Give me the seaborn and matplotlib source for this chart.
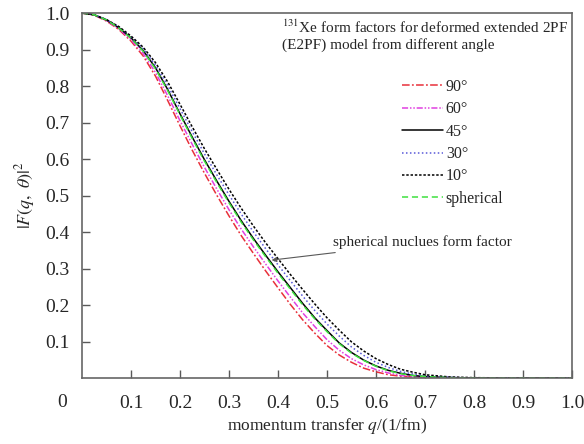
import pandas as pd
import matplotlib
matplotlib.use("Agg")
import matplotlib.pyplot as plt
import seaborn as sns

# momentum transfer grid (1/fm)
q = [0.000, 0.025, 0.050, 0.075, 0.100, 0.125, 0.150, 0.175, 0.200, 0.225,
     0.250, 0.275, 0.300, 0.325, 0.350, 0.375, 0.400, 0.425, 0.450, 0.475,
     0.500, 0.525, 0.550, 0.575, 0.600, 0.625, 0.650, 0.675, 0.700, 0.750,
     0.800, 0.900, 1.000]

f_90 = [1.000, 0.994, 0.978, 0.955, 0.923, 0.882, 0.827, 0.760, 0.691, 0.624,
        0.561, 0.501, 0.444, 0.390, 0.341, 0.293, 0.247, 0.202, 0.160, 0.123,
        0.089, 0.063, 0.043, 0.027, 0.017, 0.009, 0.005, 0.003, 0.001, 0.000,
        0.000, 0.000, 0.000]
f_60 = [1.000, 0.995, 0.979, 0.957, 0.927, 0.889, 0.837, 0.773, 0.705, 0.640,
        0.577, 0.518, 0.461, 0.408, 0.359, 0.312, 0.266, 0.222, 0.179, 0.141,
        0.105, 0.076, 0.053, 0.036, 0.023, 0.014, 0.007, 0.004, 0.002, 0.001,
        0.000, 0.000, 0.000]
f_45 = [1.000, 0.995, 0.981, 0.960, 0.932, 0.897, 0.850, 0.790, 0.724, 0.660,
        0.598, 0.540, 0.484, 0.431, 0.382, 0.336, 0.291, 0.248, 0.205, 0.165,
        0.130, 0.096, 0.070, 0.049, 0.033, 0.021, 0.013, 0.007, 0.004, 0.001,
        0.000, 0.000, 0.000]
f_30 = [1.000, 0.995, 0.982, 0.962, 0.935, 0.902, 0.857, 0.801, 0.738, 0.675,
        0.614, 0.557, 0.502, 0.449, 0.400, 0.354, 0.310, 0.267, 0.225, 0.185,
        0.148, 0.115, 0.085, 0.062, 0.043, 0.029, 0.018, 0.011, 0.006, 0.002,
        0.000, 0.000, 0.000]
f_10 = [1.000, 0.995, 0.982, 0.963, 0.937, 0.906, 0.864, 0.811, 0.750, 0.688,
        0.628, 0.572, 0.517, 0.465, 0.416, 0.370, 0.327, 0.284, 0.243, 0.203,
        0.165, 0.131, 0.099, 0.074, 0.053, 0.037, 0.024, 0.016, 0.009, 0.003,
        0.001, 0.000, 0.000]
f_sph = [1.000, 0.995, 0.981, 0.959, 0.931, 0.895, 0.847, 0.787, 0.721, 0.656,
         0.594, 0.536, 0.480, 0.427, 0.378, 0.332, 0.287, 0.244, 0.201, 0.162,
         0.127, 0.094, 0.068, 0.048, 0.032, 0.020, 0.012, 0.007, 0.004, 0.001,
         0.000, 0.000, 0.000]

ticks = [0.1, 0.2, 0.3, 0.4, 0.5, 0.6, 0.7, 0.8, 0.9, 1.0]

curves = [
    ("90°", f_90, "#e8303a", (0, (5, 1.5, 1.2, 1.5))),
    ("60°", f_60, "#e040e0", (0, (4, 1.2, 1, 1.2, 1, 1.2))),
    ("45°", f_45, "black", "-"),
    ("30°", f_30, "#5858d8", (0, (1, 1.6))),
    ("10°", f_10, "black", (0, (1.6, 1.2))),
    ("spherical", f_sph, "#3ee03e", (0, (4, 2.5))),
]

sns.set_theme(style="white")
plt.rcParams['font.family'] = ['Liberation Serif', 'DejaVu Serif']
plt.rcParams['mathtext.fontset'] = 'stix'

fig = plt.figure(figsize=(5.84, 4.44), dpi=100)
ax = fig.add_axes([0.1404, 0.1486, 0.8391, 0.8221])

for name, vals, col, ls in curves:
    df = pd.DataFrame({'q': q, 'F': vals})
    sns.lineplot(data=df, x='q', y='F', ax=ax, color=col, linestyle=ls,
                 linewidth=1.1, label=name)

ax.set_xlim(0, 1.0)
ax.set_ylim(0, 1.0)
ax.set_xticks(ticks)
ax.set_yticks(ticks)
ax.set_xticklabels([f"{t:.1f}" for t in ticks])
ax.set_yticklabels([f"{t:.1f}" for t in ticks])
ax.tick_params(direction='in', length=6, width=1, color='0.35', labelsize=14,
               left=True, bottom=True, top=False, right=False)
ax.tick_params(axis='x', pad=12)
ax.tick_params(axis='y', pad=9)
for sp in ax.spines.values():
    sp.set_color('0.4')
    sp.set_linewidth(1.2)

ax.text(-0.041, -0.066, "0", transform=ax.transAxes, ha='center', va='center',
        fontsize=14)

ax.set_xlabel("momentum transfer $q$/(1/fm)", fontsize=12.5, labelpad=3)
ax.set_ylabel(r"$|F(q,\ \theta)|^2$", fontsize=13, labelpad=6)

ax.text(0.408, 0.985, "$^{131}$Xe form factors for deformed extended 2PF\n"
        "(E2PF) model from different angle", transform=ax.transAxes,
        ha='left', va='top', fontsize=11, linespacing=1.25)

ax.legend(loc='upper left', bbox_to_anchor=(0.63, 0.85), frameon=False,
          fontsize=11.5, handlelength=2.6, handletextpad=0.15,
          labelspacing=0.4, borderpad=0.2)

ax.annotate("spherical nuclues form factor", xy=(0.387, 0.323),
            xytext=(0.512, 0.372), fontsize=11, ha='left', va='center',
            arrowprops=dict(arrowstyle='-|>', color='0.35', lw=0.8,
                            mutation_scale=7, shrinkA=1, shrinkB=0))

fig.savefig("out.png", dpi=100)
